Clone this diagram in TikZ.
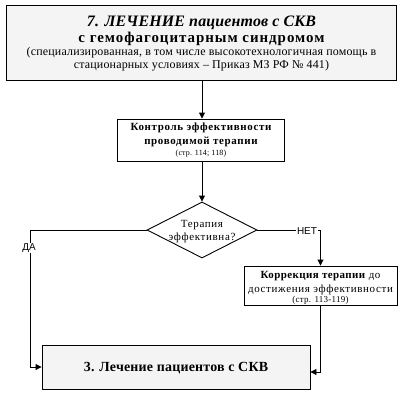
\documentclass[tikz,border=0pt]{standalone}
\usepackage{fontspec}
\setmainfont{Liberation Serif}
\newfontfamily\arialf{Liberation Sans}
\usetikzlibrary{shapes.geometric,arrows.meta}
\definecolor{boxgray}{HTML}{F4F4F4}
\begin{document}
\begin{tikzpicture}[x=1bp,y=-1bp,
  box/.style={draw=black, line width=0.9bp, inner sep=0pt},
  graybox/.style={box, fill=boxgray},
  conn/.style={line width=0.9bp},
  arr/.style={conn, -{Triangle[length=6bp,width=6bp]}},
  lab/.style={font=\arialf\fontsize{10}{11}\selectfont, fill=white, inner sep=0.6bp, anchor=base},
  txt/.style={inner sep=0pt, anchor=base}
]
\useasboundingbox (0,0) rectangle (405,393);
% top box
\node[graybox, minimum width=390bp, minimum height=75bp] (top) at (201.5,42.5) {};
\node[txt] (t1) at (201.5,26) {\fontsize{16}{18}\selectfont\bfseries\itshape\addfontfeature{LetterSpace=1}7. ЛЕЧЕНИЕ пациентов с СКВ};
\node[txt] (t2) at (201.5,42) {\fontsize{15}{17}\selectfont\bfseries\addfontfeature{LetterSpace=6.5}с гемофагоцитарным синдромом};
\node[txt] (t3) at (201.5,55) {\fontsize{12}{14}\selectfont\addfontfeature{LetterSpace=1.5}(специализированная, в том числе высокотехнологичная помощь в};
\node[txt] (t4) at (201.5,68) {\fontsize{12}{14}\selectfont\addfontfeature{LetterSpace=1.5}стационарных условиях -- Приказ МЗ РФ  № 441)};
% control box
\node[box, fill=white, minimum width=167bp, minimum height=42bp] (ctrl) at (201,140) {};
\node[txt] (c1) at (201,130) {\fontsize{11}{13}\selectfont\bfseries\addfontfeature{LetterSpace=6}Контроль эффективности};
\node[txt] (c2) at (201,144) {\fontsize{11}{13}\selectfont\bfseries\addfontfeature{LetterSpace=6}проводимой терапии};
\node[txt] (c3) at (201,155.5) {\fontsize{8}{9}\selectfont\addfontfeature{LetterSpace=2}(стр. 114; 118)};
% decision
\node[draw=black, line width=0.9bp, diamond, minimum width=110bp, minimum height=56bp, inner sep=0pt] (dia) at (202,230) {};
\node[txt] (d1) at (202,227) {\fontsize{11}{13}\selectfont\addfontfeature{LetterSpace=6}Терапия};
\node[txt] (d2) at (202,240) {\fontsize{11}{13}\selectfont\addfontfeature{LetterSpace=6}эффективна?};
% correction box
\node[box, fill=white, minimum width=153bp, minimum height=39bp] (korr) at (320.5,285.5) {};
\node[txt] (k1) at (320.5,278) {\fontsize{11}{13}\selectfont\addfontfeature{LetterSpace=4}\textbf{Коррекция терапии} до};
\node[txt] (k2) at (320.5,292.5) {\fontsize{11}{13}\selectfont\addfontfeature{LetterSpace=6}достижения эффективности};
\node[txt] (k3) at (320.5,302) {\fontsize{9}{10}\selectfont\addfontfeature{LetterSpace=3}(стр. 113-119)};
% bottom box
\node[graybox, minimum width=268bp, minimum height=44bp] (bot) at (176,367) {};
\node[txt] (b1) at (176,371.5) {\fontsize{14}{16}\selectfont\bfseries\addfontfeature{LetterSpace=1.5}3. Лечение пациентов с СКВ};
% connectors
\draw[arr] (top.south -| dia.north) -- (dia.north |- ctrl.north);
\draw[arr] (ctrl.south -| dia.north) -- (dia.north);
\coordinate (yesbend) at (30,367);
\draw[arr] (dia.west) -| (yesbend) -- (bot.west);
\node[lab] (yes) at (29,250) {ДА};
\draw[arr] (dia.east) -| (korr.north);
\node[lab] (no) at (307,234.5) {НЕТ};
\draw[arr] (korr.south) |- ([yshift=-5bp]bot.east);
\end{tikzpicture}
\end{document}
